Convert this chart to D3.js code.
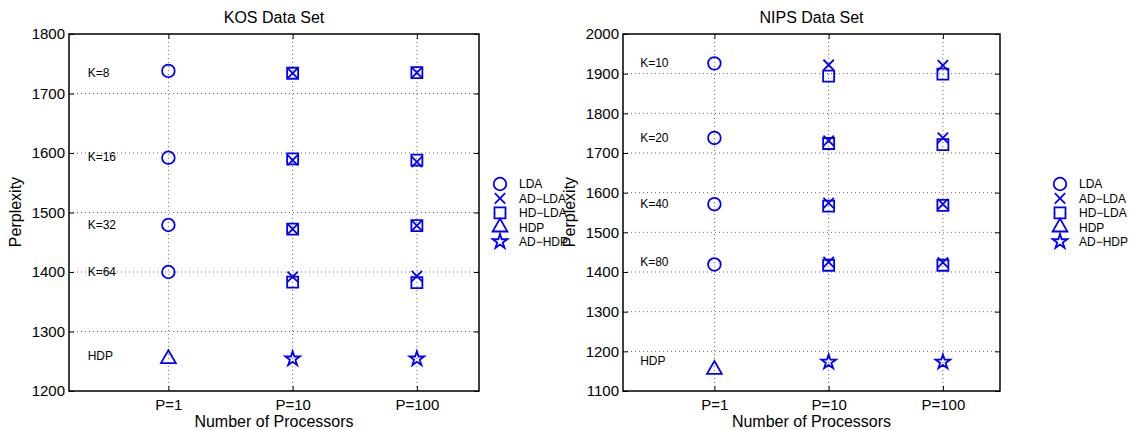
<!DOCTYPE html>
<html>
<head>
<meta charset="utf-8">
<script src="https://cdn.jsdelivr.net/npm/d3@7"></script>
<style>
  body { margin: 0; background: #fff; }
  svg { display: block; font-family: "Liberation Sans", Arial, sans-serif; }
</style>
</head>
<body>
<svg id="chart" width="1129" height="430"></svg>
<script>
// x positions: 1 = P=1, 2 = P=10, 3 = P=100
const procLabels = ["P=1", "P=10", "P=100"];
const methodNames = ["LDA", "AD−LDA", "HD−LDA", "HDP", "AD−HDP"];

// KOS
const kosK = ["K=8", "K=16", "K=32", "K=64"];
const kosLDA = [1738, 1592, 1479, 1400];           // P=1
const kosADLDA10 = [1734, 1588, 1472, 1392];
const kosADLDA100 = [1735, 1585, 1478, 1393];
const kosHDLDA10 = [1734, 1590, 1472, 1383];
const kosHDLDA100 = [1735, 1588, 1478, 1382];
const kosHDP = [1254];                              // P=1
const kosADHDP = [1254, 1254];                      // P=10, P=100
const kosLabelY = [1735, 1593, 1479, 1400, 1259];
const kosYTicks = [1200, 1300, 1400, 1500, 1600, 1700, 1800];

// NIPS
const nipsK = ["K=10", "K=20", "K=40", "K=80"];
const nipsLDA = [1926, 1738, 1571, 1419];
const nipsADLDA10 = [1922, 1731, 1574, 1425];
const nipsADLDA100 = [1921, 1738, 1571, 1424];
const nipsHDLDA10 = [1894, 1724, 1566, 1417];
const nipsHDLDA100 = [1899, 1721, 1568, 1417];
const nipsHDP = [1154];
const nipsADHDP = [1173, 1173];
const nipsLabelY = [1928, 1738, 1573, 1425, 1177];
const nipsYTicks = [1100, 1200, 1300, 1400, 1500, 1600, 1700, 1800, 1900, 2000];

const blue = "#0000ff";
const svg = d3.select("#chart");
svg.append("rect").attr("width", 1129).attr("height", 430).attr("fill", "#fff");

// marker shapes (stroke only, matlab style)
const shapes = {
  "LDA": d3.symbol(d3.symbolCircle, 125),
  "AD−LDA": d3.symbol(d3.symbolTimes, 72),
  "HD−LDA": d3.symbol(d3.symbolSquare, 121),
  "HDP": d3.symbol(d3.symbolTriangle, 95),
  "AD−HDP": d3.symbol(d3.symbolStar, 66)
};

function panel(opt) {
  const x = d3.scaleLinear().domain([0.2, 3.5]).range([opt.left, opt.right]);
  const y = d3.scaleLinear().domain(opt.yDomain).range([391, 34]);
  const g = svg.append("g");

  // grid
  g.selectAll(".gy").data(opt.yTicks.slice(1, -1)).join("line")
    .attr("x1", opt.left).attr("x2", opt.right)
    .attr("y1", d => y(d)).attr("y2", d => y(d))
    .attr("stroke", "#666").attr("stroke-width", 1).attr("stroke-dasharray", "1,3");
  g.selectAll(".gx").data([1, 2, 3]).join("line")
    .attr("x1", d => x(d)).attr("x2", d => x(d))
    .attr("y1", 34).attr("y2", 391)
    .attr("stroke", "#666").attr("stroke-width", 1).attr("stroke-dasharray", "1,3");

  // axes
  const yAxis = d3.axisLeft(y).tickValues(opt.yTicks).tickSize(-5).tickPadding(4)
    .tickFormat(d3.format("d"));
  const ya = g.append("g").attr("transform", `translate(${opt.left},0)`).call(yAxis);
  const ya2 = g.append("g").attr("transform", `translate(${opt.right},0)`)
    .call(d3.axisRight(y).tickValues(opt.yTicks).tickSize(-5).tickFormat(""));
  const xAxis = d3.axisBottom(x).tickValues([1, 2, 3]).tickSize(-5).tickPadding(8)
    .tickFormat((d, i) => procLabels[i]);
  const xa = g.append("g").attr("transform", "translate(0,391)").call(xAxis);
  const xa2 = g.append("g").attr("transform", "translate(0,34)")
    .call(d3.axisTop(x).tickValues([1, 2, 3]).tickSize(-5).tickFormat(""));
  [ya, ya2, xa, xa2].forEach(a => {
    a.select(".domain").remove();
    a.selectAll("line").attr("stroke", "#000");
    a.selectAll("text").attr("font-size", 15).attr("fill", "#000")
      .attr("font-family", "Liberation Sans, Arial, sans-serif");
  });
  g.append("rect").attr("x", opt.left).attr("y", 34)
    .attr("width", opt.right - opt.left).attr("height", 357)
    .attr("fill", "none").attr("stroke", "#000").attr("stroke-width", 1.5);

  // titles
  const cx = (opt.left + opt.right) / 2;
  g.append("text").attr("x", cx).attr("y", 23).attr("text-anchor", "middle")
    .attr("font-size", 16).text(opt.title);
  g.append("text").attr("x", cx).attr("y", 427).attr("text-anchor", "middle")
    .attr("font-size", 16).text("Number of Processors");
  g.append("text").attr("transform", `translate(${opt.left - 48},212) rotate(-90)`)
    .attr("text-anchor", "middle").attr("font-size", 16).text("Perplexity");

  // K labels
  const labels = opt.kLabels.concat(["HDP"]);
  g.selectAll(".kl").data(labels).join("text")
    .attr("x", x(0.35)).attr("y", (d, i) => y(opt.labelY[i]))
    .attr("dy", "0.35em").attr("font-size", 12).text(d => d);

  // points
  const pts = [];
  opt.lda.forEach(v => pts.push({ m: "LDA", x: 1, v }));
  opt.adlda10.forEach(v => pts.push({ m: "AD−LDA", x: 2, v }));
  opt.adlda100.forEach(v => pts.push({ m: "AD−LDA", x: 3, v }));
  opt.hdlda10.forEach(v => pts.push({ m: "HD−LDA", x: 2, v }));
  opt.hdlda100.forEach(v => pts.push({ m: "HD−LDA", x: 3, v }));
  opt.hdp.forEach(v => pts.push({ m: "HDP", x: 1, v }));
  opt.adhdp.forEach((v, i) => pts.push({ m: "AD−HDP", x: 2 + i, v }));

  g.selectAll(".pt").data(pts).join("path")
    .attr("d", d => shapes[d.m]())
    .attr("transform", d => `translate(${x(d.x)},${y(d.v)})`)
    .attr("fill", "none").attr("stroke", blue).attr("stroke-width", 1.8);

  // legend
  const lg = g.append("g").attr("transform", `translate(${opt.legendX},184)`);
  methodNames.forEach((m, i) => {
    lg.append("path").attr("d", shapes[m]())
      .attr("transform", `translate(0,${i * 14.4})`)
      .attr("fill", "none").attr("stroke", blue).attr("stroke-width", 1.8);
    lg.append("text").attr("x", 19).attr("y", i * 14.4).attr("dy", "0.36em")
      .attr("font-size", 12).text(m);
  });
}

panel({
  title: "KOS Data Set", left: 69, right: 479, yDomain: [1200, 1800], yTicks: kosYTicks,
  kLabels: kosK, labelY: kosLabelY, lda: kosLDA, adlda10: kosADLDA10, adlda100: kosADLDA100,
  hdlda10: kosHDLDA10, hdlda100: kosHDLDA100, hdp: kosHDP, adhdp: kosADHDP, legendX: 500
});
panel({
  title: "NIPS Data Set", left: 623, right: 1000, yDomain: [1100, 2000], yTicks: nipsYTicks,
  kLabels: nipsK, labelY: nipsLabelY, lda: nipsLDA, adlda10: nipsADLDA10, adlda100: nipsADLDA100,
  hdlda10: nipsHDLDA10, hdlda100: nipsHDLDA100, hdp: nipsHDP, adhdp: nipsADHDP, legendX: 1060
});
</script>
</body>
</html>
